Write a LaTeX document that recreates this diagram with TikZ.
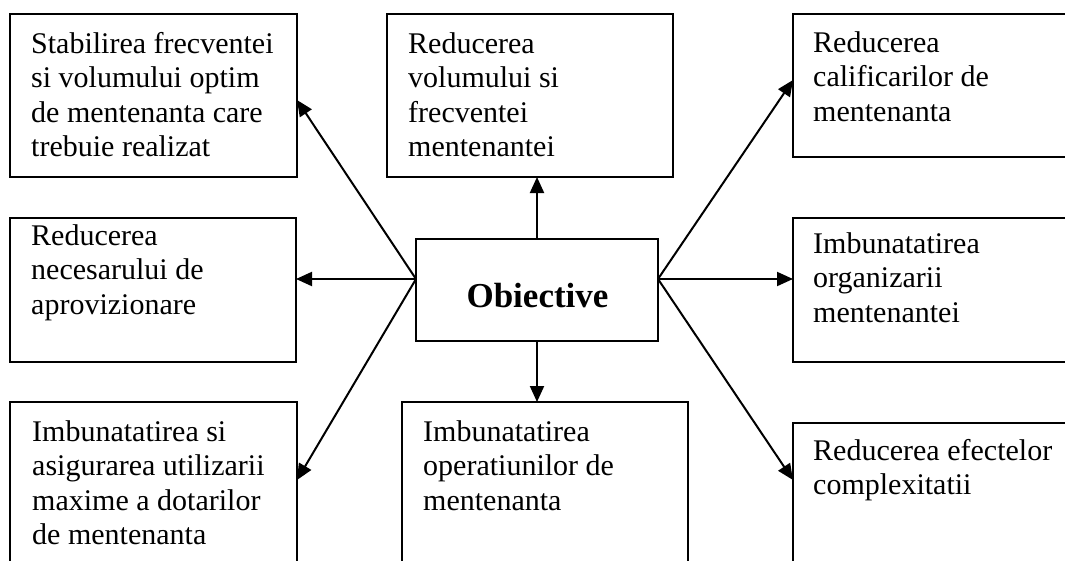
\documentclass[tikz,border=0pt]{standalone}
\usepackage{fontspec}
\setmainfont{Liberation Serif}
\usetikzlibrary{arrows.meta}
\newcommand{\bxt}[1]{\parbox[t]{300pt}{\raggedright #1}}
\begin{document}
\begin{tikzpicture}[x=1pt,y=-1pt,
  box/.style={draw, line width=2.3pt, rectangle, inner sep=0pt, outer sep=0pt, anchor=north west},
  lbl/.style={anchor=base west, inner sep=0pt, font=\fontsize{30}{34.5}\selectfont},
  arr/.style={line width=2pt, -{Triangle[length=16pt,width=14pt]}}]
\useasboundingbox (0,0) rectangle (1065,560);
\clip (0,0) rectangle (1065,560);
\fill[white] (0,0) rectangle (1065,560);
% boxes
\node[box, minimum width=287pt, minimum height=163pt] (tl) at (10,14) {};
\node[box, minimum width=286pt, minimum height=163pt] (tm) at (387,14) {};
\node[box, minimum width=287pt, minimum height=143pt] (tr) at (793,14) {};
\node[box, minimum width=286pt, minimum height=144pt] (ml) at (10,218) {};
\node[box, minimum width=242pt, minimum height=102pt] (c) at (416,239) {};
\node[box, minimum width=287pt, minimum height=144pt] (mr) at (793,218) {};
\node[box, minimum width=287pt, minimum height=178pt] (bl) at (10,402) {};
\node[box, minimum width=286pt, minimum height=178pt] (bm) at (402,402) {};
\node[box, minimum width=287pt, minimum height=157pt] (br) at (793,423) {};
% texts
\node[lbl] (ttl) at (31,53) {\bxt{Stabilirea frecventei\\si volumului optim\\de mentenanta care\\trebuie realizat}};
\node[lbl] (ttm) at (408,53) {\bxt{Reducerea\\volumului si\\frecventei\\mentenantei}};
\node[lbl] (ttr) at (813,52) {\bxt{Reducerea\\calificarilor de\\mentenanta}};
\node[lbl] (tml) at (31,245) {\bxt{Reducerea\\necesarului de\\aprovizionare}};
\node[lbl] (tmr) at (813,253) {\bxt{Imbunatatirea\\organizarii\\mentenantei}};
\node[lbl] (tbl) at (32,441) {\bxt{Imbunatatirea si\\asigurarea utilizarii\\maxime a dotarilor\\de mentenanta}};
\node[lbl] (tbm) at (423,441) {\bxt{Imbunatatirea\\operatiunilor de\\mentenanta}};
\node[lbl] (tbr) at (813,460) {\bxt{Reducerea efectelor\\complexitatii}};
\node[anchor=base, inner sep=0pt, font=\fontsize{35}{40}\selectfont\bfseries] (tc) at (537.5,307) {Obiective};
% connectors
\coordinate (cL) at ([yshift=11pt]c.west);
\coordinate (cR) at ([yshift=11pt]c.east);
\draw[arr] (cL) -- ([yshift=-4.5pt]tl.east);
\draw[arr] (cL) -- (cL -| ml.east);
\draw[arr] (cL) -- ([yshift=11pt]bl.east);
\draw[arr] (c.north) -- (c.north |- tm.south);
\draw[arr] (c.south) -- (c.south |- bm.north);
\draw[arr] (cR) -- ([yshift=5.5pt]tr.west);
\draw[arr] (cR) -- (cR -| mr.west);
\draw[arr] (cR) -- ([yshift=21.5pt]br.west);
\end{tikzpicture}
\end{document}
